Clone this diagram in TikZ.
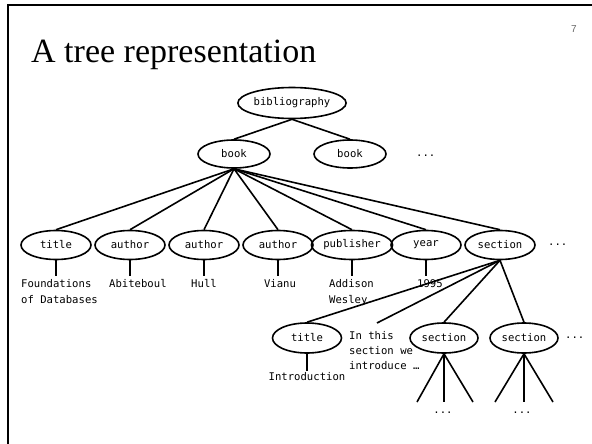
\documentclass[tikz,border=0pt]{standalone}
\usepackage{fontspec}
\setmainfont{Liberation Serif}
\newfontfamily\monof{DejaVu Sans Mono}
\newfontfamily\numf{Liberation Sans}
\usetikzlibrary{shapes.geometric}
\begin{document}
\begin{tikzpicture}[x=1pt,y=-1pt,
  el/.style={ellipse,draw,line width=1.6pt,inner sep=0pt,minimum width=70pt,minimum height=29pt,font=\monof\fontsize{10.6}{15}\selectfont},
  lbl/.style={inner sep=0pt,font=\monof\fontsize{10.6}{16}\selectfont,align=left},
  edge/.style={line width=1.6pt}]
\useasboundingbox (0,0) rectangle (592,444);
\fill[white] (0,0) rectangle (592,444);
% frame
\draw[line width=2.2pt] (8,444) -- (8,5) -- (592,5);
% title and page number
\node[anchor=base west,inner sep=0pt,font=\fontsize{34}{40}\selectfont] (title) at (31,63) {A tree representation};
\node[font=\numf\fontsize{10}{12}\selectfont,text=black!60] (pg) at (574,29) {7};
% top levels
\node[el,minimum width=89pt,minimum height=31pt] (bib) at (292,103) {bibliography};
\node[el,minimum width=72pt,minimum height=28pt] (bk1) at (234,154) {book};
\node[el,minimum width=72pt,minimum height=28pt] (bk2) at (350,154) {book};
\node[lbl,anchor=west] (d1) at (416,156) {...};
\draw[edge] (bib.south) -- (bk1.north);
\draw[edge] (bib.south) -- (bk2.north);
% second row
\node[el] (ti) at (56,245) {title};
\node[el] (au1) at (130,245) {author};
\node[el] (au2) at (204,245) {author};
\node[el] (au3) at (278,245) {author};
\node[el] (pub) at (352,245) {publisher};
\node[el] (yr) at (426,245) {year};
\node[el] (sec) at (500,245) {section};
\node[lbl,anchor=west] (d2) at (548,245) {...};
\foreach \n in {ti,au1,au2,au3,pub,yr,sec} \draw[edge] (bk1.south) -- (\n.north);
% leaves
\node[lbl,anchor=north west] (l1) at (21,279) {Foundations\\of Databases};
\node[lbl,anchor=base west] (l2) at (109,287) {Abiteboul};
\node[lbl,anchor=base] (l3) at (204,287) {Hull};
\node[lbl,anchor=base] (l4) at (280,287) {Vianu};
\node[lbl,anchor=north west] (l5) at (329,279) {Addison\\Wesley};
\node[lbl,anchor=base west] (l6) at (417,287) {1995};
\draw[edge,shorten >=3pt] (ti.south) -- (ti.south |- l1.north);
\draw[edge,shorten >=3pt] (au1.south) -- (au1.south |- l2.north);
\draw[edge,shorten >=3pt] (au2.south) -- (au2.south |- l3.north);
\draw[edge,shorten >=3pt] (au3.south) -- (au3.south |- l4.north);
\draw[edge,shorten >=3pt] (pub.south) -- (pub.south |- l5.north);
\draw[edge,shorten >=3pt] (yr.south) -- (yr.south |- l6.north);
% third row
\node[el,minimum width=69pt,minimum height=30pt] (ti2) at (307,338) {title};
\node[lbl,anchor=north west,font=\monof\fontsize{10.6}{15}\selectfont] (intro) at (349,331) {In this\\section we\\introduce …};
\coordinate (introtop) at (377,323);
\node[el,minimum width=68pt,minimum height=30pt] (s2) at (444,338) {section};
\node[el,minimum width=68pt,minimum height=30pt] (s3) at (524,338) {section};
\node[lbl,anchor=west] (d3) at (565,338) {...};
\node[lbl,anchor=north] (introd) at (307,372) {Introduction};
\draw[edge,shorten >=1pt] (ti2.south) -- (introd.north);
\draw[edge] (sec.south) -- (ti2.north);
\draw[edge] (sec.south) -- (introtop);
\draw[edge] (sec.south) -- (s2.north);
\draw[edge] (sec.south) -- (s3.north);
% subtrees
\coordinate (a1) at (417,402);
\coordinate (a2) at (444,402);
\coordinate (a3) at (473,402);
\coordinate (b1) at (495,402);
\coordinate (b2) at (524,402);
\coordinate (b3) at (553,402);
\foreach \c in {a1,a2,a3} \draw[edge] (s2.south) -- (\c);
\foreach \c in {b1,b2,b3} \draw[edge] (s3.south) -- (\c);
\node[lbl,anchor=base] (d4) at (443,413) {...};
\node[lbl,anchor=base] (d5) at (522,413) {...};
\end{tikzpicture}
\end{document}
